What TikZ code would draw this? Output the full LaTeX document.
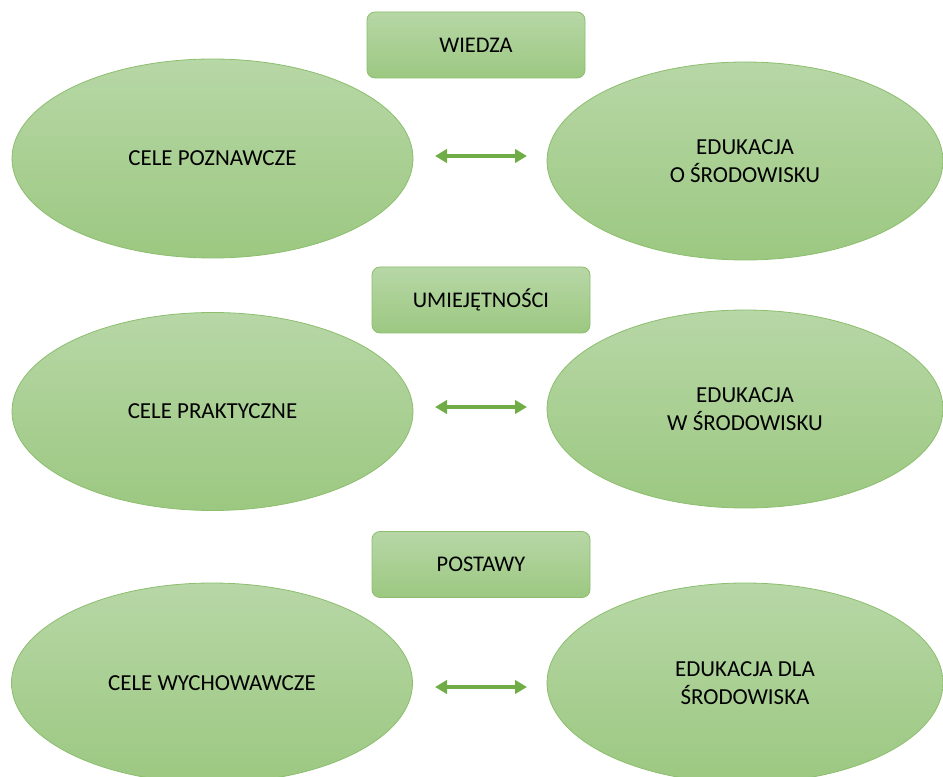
\documentclass[tikz,border=0pt]{standalone}
\usepackage{fontspec}
\setmainfont{Carlito}
\usetikzlibrary{shapes.geometric,arrows.meta}
\definecolor{topg}{RGB}{183,215,166}
\definecolor{botg}{RGB}{156,200,129}
\definecolor{edgeg}{RGB}{140,190,110}
\definecolor{arrg}{RGB}{112,173,71}
\tikzset{
  oval/.style={ellipse, draw=edgeg, line width=0.6pt, top color=topg, bottom color=botg,
    inner sep=0pt, align=center, font=\fontsize{17.2}{21.5}\selectfont, text=black},
  lbox/.style={rectangle, rounded corners=6pt, draw=edgeg, line width=0.6pt, top color=topg, bottom color=botg,
    minimum width=163.5pt, minimum height=49.5pt, inner sep=0pt, font=\fontsize{16.8}{21.5}\selectfont, text=black},
  link/.style={arrg, line width=2.3pt, {Triangle[length=9pt,width=10pt]}-{Triangle[length=9pt,width=10pt]}}
}
\begin{document}
\begin{tikzpicture}[x=0.75pt,y=-0.75pt]
\useasboundingbox (0,0) rectangle (943,777);
% boxes
\node[lbox] (b1) at (476,45) {WIEDZA};
\node[lbox] (b2) at (481,300) {UMIEJĘTNOŚCI};
\node[lbox] (b3) at (481,564.5) {POSTAWY};
% ellipses
\node[oval, minimum width=300.75pt, minimum height=149.25pt] (l1) at (212.5,158.5) {CELE POZNAWCZE};
\node[oval, minimum width=297pt, minimum height=148.5pt] (r1) at (745,161) {EDUKACJA\\O ŚRODOWISKU};
\node[oval, minimum width=300.75pt, minimum height=148.5pt] (l2) at (212.5,411.5) {CELE PRAKTYCZNE};
\node[oval, minimum width=297pt, minimum height=148.5pt] (r2) at (745,409) {EDUKACJA\\W ŚRODOWISKU};
\node[oval, minimum width=300.75pt, minimum height=150pt] (l3) at (212,683) {CELE WYCHOWAWCZE};
\node[oval, minimum width=297pt, minimum height=150pt] (r3) at (745,683) {EDUKACJA DLA\\ŚRODOWISKA};
% arrow ends
\coordinate (a1s) at (435,156); \coordinate (a1e) at (527,156);
\coordinate (a2s) at (435,407); \coordinate (a2e) at (527,407);
\coordinate (a3s) at (435,687); \coordinate (a3e) at (527,687);
\draw[link] (a1s) -- (a1e);
\draw[link] (a2s) -- (a2e);
\draw[link] (a3s) -- (a3e);
\end{tikzpicture}
\end{document}
